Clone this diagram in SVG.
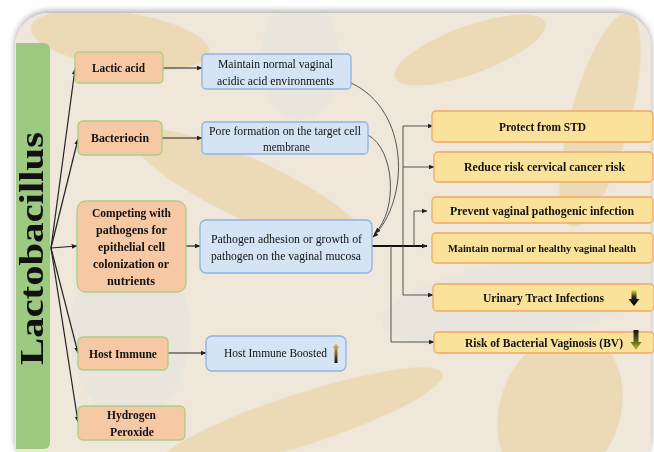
<svg xmlns="http://www.w3.org/2000/svg" width="654" height="452" viewBox="0 0 654 452">
<defs>
<style>
.t{font-family:"Liberation Serif","DejaVu Serif",serif;fill:#111;text-anchor:middle}
.b{font-weight:bold;font-size:12.5px}
.r{font-size:12.5px}
.or{fill:#f6c9a4;stroke:#a9cf86;stroke-width:1.3}
.bl{fill:#d5e4f5;stroke:#8db3e2;stroke-width:1.3}
.ye{fill:#fbe29a;stroke:#f1a766;stroke-width:1.3}
.c{fill:none;stroke:#222;stroke-width:1.2}
.g{fill:none;stroke:#444;stroke-width:0.9}
</style>
<marker id="ar" viewBox="0 0 10 10" refX="9" refY="5" markerWidth="6" markerHeight="6" orient="auto" markerUnits="userSpaceOnUse"><path d="M0,1 L10,5 L0,9 z" fill="#222"/></marker>
<filter id="sh" x="-5%" y="-5%" width="110%" height="110%"><feDropShadow dx="0" dy="-2" stdDeviation="3" flood-color="#000" flood-opacity="0.35"/></filter>
<linearGradient id="dn1" x1="0" y1="0" x2="0" y2="1"><stop offset="0" stop-color="#e8d84a"/><stop offset="0.45" stop-color="#222"/><stop offset="1" stop-color="#000"/></linearGradient>
<linearGradient id="dn2" x1="0" y1="0" x2="0" y2="1"><stop offset="0" stop-color="#111"/><stop offset="0.6" stop-color="#6b6a1a"/><stop offset="1" stop-color="#b5c43a"/></linearGradient>
<linearGradient id="up1" x1="0" y1="0" x2="0" y2="1"><stop offset="0" stop-color="#e8c560"/><stop offset="0.5" stop-color="#8a6a2a"/><stop offset="1" stop-color="#111"/></linearGradient>
<clipPath id="fc"><rect x="15" y="13" width="636" height="460" rx="34"/></clipPath>
</defs>
<rect width="654" height="452" fill="#ffffff"/>
<rect x="15" y="13" width="636" height="460" rx="34" fill="#efe7da" filter="url(#sh)"/>
<g clip-path="url(#fc)" opacity="0.45">
<ellipse cx="120" cy="40" rx="90" ry="28" fill="#e8c98e" transform="rotate(8 120 40)"/>
<ellipse cx="300" cy="60" rx="40" ry="60" fill="#e4e2df"/>
<ellipse cx="470" cy="50" rx="80" ry="24" fill="#e8c98e" transform="rotate(-20 470 50)"/>
<ellipse cx="600" cy="120" rx="30" ry="110" fill="#e8c98e" transform="rotate(15 600 120)"/>
<ellipse cx="250" cy="190" rx="130" ry="30" fill="#e8c98e" transform="rotate(25 250 190)"/>
<ellipse cx="520" cy="300" rx="140" ry="40" fill="#e3e2e0" transform="rotate(-10 520 300)"/>
<ellipse cx="300" cy="420" rx="150" ry="26" fill="#e8c98e" transform="rotate(-18 300 420)"/>
<ellipse cx="560" cy="410" rx="60" ry="80" fill="#e8c98e" transform="rotate(20 560 410)"/>
<ellipse cx="130" cy="330" rx="60" ry="90" fill="#e4e2df"/>
</g>
<g id="lactobacillus">
<path d="M16,43 H44 A6,6 0 0 1 50,49 V443 A6,6 0 0 1 44,449 H16 Z" fill="#9dc981"/>
<text class="t" x="0" y="0" font-weight="bold" font-size="33" textLength="233" lengthAdjust="spacingAndGlyphs" transform="translate(43,248.5) rotate(-90)">Lactobacillus</text>
</g>
<g id="connectors">
<path class="c" d="M51,248 L75,69" marker-end="url(#ar)"/>
<path class="c" d="M51,248 L78,139" marker-end="url(#ar)"/>
<path class="c" d="M51,248 L77,246" marker-end="url(#ar)"/>
<path class="c" d="M51,248 L78,353" marker-end="url(#ar)"/>
<path class="c" d="M51,248 L78,422" marker-end="url(#ar)"/>
<path class="c" d="M163,68 H202" marker-end="url(#ar)"/>
<path class="c" d="M162,138 H202" marker-end="url(#ar)"/>
<path class="c" d="M186,246 H200" marker-end="url(#ar)"/>
<path class="c" d="M168,353 H206" marker-end="url(#ar)"/>
<path class="g" d="M351,83 C410,110 410,200 373,237" marker-end="url(#ar)"/>
<path class="g" d="M368,135 C395,150 398,210 375,233" marker-end="url(#ar)"/>
<path d="M372,246 H427" fill="none" stroke="#111" stroke-width="2" marker-end="url(#ar)"/>
<path class="g" d="M403,246 V126 H433" marker-end="url(#ar)"/>
<path class="g" d="M403,167 H434" marker-end="url(#ar)"/>
<path class="g" d="M403,246 V295 H433" marker-end="url(#ar)"/>
<path class="g" d="M414,246 V211 H427" marker-end="url(#ar)"/>
<path class="g" d="M391,246 V342 H434" marker-end="url(#ar)"/>
</g>
<g id="lactic-acid"><rect class="or" x="75" y="52" width="88" height="31" rx="4"/><text class="t b" x="118.5" y="72" textLength="53" lengthAdjust="spacingAndGlyphs">Lactic acid</text></g>
<g id="bacteriocin"><rect class="or" x="78" y="121" width="84" height="34" rx="5"/><text class="t b" x="120" y="142" textLength="58" lengthAdjust="spacingAndGlyphs">Bacteriocin</text></g>
<g id="competing"><rect class="or" x="77" y="201" width="109" height="91" rx="9"/>
<text class="t b"><tspan x="131.5" y="217" textLength="79" lengthAdjust="spacingAndGlyphs">Competing with</tspan><tspan x="131.5" y="234" textLength="71" lengthAdjust="spacingAndGlyphs">pathogens for</tspan><tspan x="131.5" y="251" textLength="67" lengthAdjust="spacingAndGlyphs">epithelial cell</tspan><tspan x="131" y="268" textLength="76" lengthAdjust="spacingAndGlyphs">colonization or</tspan><tspan x="131" y="285" textLength="48" lengthAdjust="spacingAndGlyphs">nutrients</tspan></text></g>
<g id="host-immune"><rect class="or" x="78" y="337" width="90" height="33" rx="5"/><text class="t b" x="123" y="358" textLength="68" lengthAdjust="spacingAndGlyphs">Host Immune</text></g>
<g id="hydrogen-peroxide"><rect class="or" x="78" y="406" width="107" height="34" rx="5"/><text class="t b"><tspan x="131.5" y="419" textLength="49" lengthAdjust="spacingAndGlyphs">Hydrogen</tspan><tspan x="132" y="436" textLength="44" lengthAdjust="spacingAndGlyphs">Peroxide</tspan></text></g>
<g id="maintain-acidic"><rect class="bl" x="202" y="54" width="149" height="35" rx="4"/><text class="t r"><tspan x="275.5" y="68" textLength="115" lengthAdjust="spacingAndGlyphs">Maintain normal vaginal</tspan><tspan x="275.5" y="85" textLength="117" lengthAdjust="spacingAndGlyphs">acidic acid environments</tspan></text></g>
<g id="pore-formation"><rect class="bl" x="202" y="122" width="166" height="32" rx="4"/><text class="t r"><tspan x="285" y="135" textLength="152" lengthAdjust="spacingAndGlyphs">Pore formation on the target cell</tspan><tspan x="286.5" y="151" textLength="47" lengthAdjust="spacingAndGlyphs">membrane</tspan></text></g>
<g id="pathogen-adhesion"><rect class="bl" x="200" y="220" width="172" height="53" rx="6"/><text class="t r"><tspan x="286.5" y="243" textLength="151" lengthAdjust="spacingAndGlyphs">Pathogen adhesion or growth of</tspan><tspan x="286" y="260" textLength="150" lengthAdjust="spacingAndGlyphs">pathogen on the vaginal mucosa</tspan></text></g>
<g id="host-immune-boosted"><rect class="bl" x="206" y="336" width="140" height="35" rx="6"/><text class="t r" x="275.5" y="357" textLength="103" lengthAdjust="spacingAndGlyphs">Host Immune Boosted</text>
<path d="M336,343 L339,348 H337.5 V363 H334.5 V348 H333 Z" fill="url(#up1)"/></g>
<g id="protect-std"><rect class="ye" x="432" y="111" width="221" height="31" rx="4"/><text class="t b" x="542.5" y="131" textLength="87" lengthAdjust="spacingAndGlyphs">Protect from STD</text></g>
<g id="reduce-cancer"><rect class="ye" x="434" y="152" width="219" height="30" rx="4"/><text class="t b" x="544.5" y="171" textLength="161" lengthAdjust="spacingAndGlyphs">Reduce risk cervical cancer risk</text></g>
<g id="prevent-infection"><rect class="ye" x="432" y="197" width="221" height="26" rx="4"/><text class="t b" x="542" y="215" textLength="184" lengthAdjust="spacingAndGlyphs">Prevent vaginal pathogenic infection</text></g>
<g id="maintain-health"><rect class="ye" x="432" y="233" width="221" height="30" rx="4"/><text class="t b" x="542" y="252" style="font-size:11px" textLength="188" lengthAdjust="spacingAndGlyphs">Maintain normal or healthy vaginal health</text></g>
<g id="urinary"><rect class="ye" x="433" y="284" width="221" height="27" rx="4"/><text class="t b" x="543.5" y="302" textLength="121" lengthAdjust="spacingAndGlyphs">Urinary Tract Infections</text>
<path d="M631.5,290 H636.5 V299 H639.5 L634,306 L628.5,299 H631.5 Z" fill="url(#dn1)"/></g>
<g id="bacterial-vaginosis"><rect class="ye" x="434" y="332" width="220" height="21" rx="4"/><text class="t b" x="544" y="347" textLength="158" lengthAdjust="spacingAndGlyphs">Risk of Bacterial Vaginosis (BV)</text>
<path d="M633.5,330 H638.5 V342 H641.5 L636,350 L630.5,342 H633.5 Z" fill="url(#dn2)"/></g>
</svg>
